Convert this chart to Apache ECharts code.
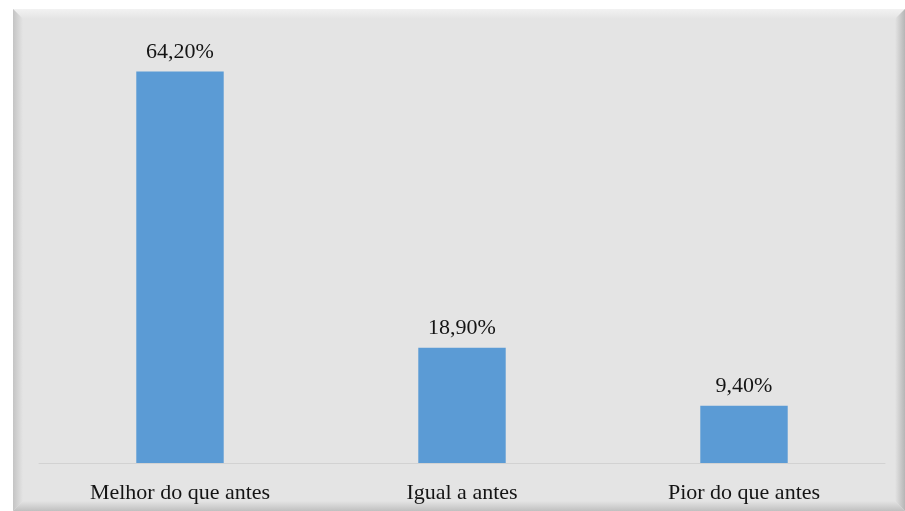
<!DOCTYPE html>
<html>
<head>
<meta charset="utf-8">
<script src="https://cdn.jsdelivr.net/npm/echarts@6/dist/echarts.min.js"></script>
<style>
  html, body { margin: 0; padding: 0; background: #ffffff; }
  #chart { width: 905px; height: 511px; }
</style>
</head>
<body>
<div id="chart"></div>
<script>
// Answers to the survey question, in percent
const categories = ['Melhor do que antes', 'Igual a antes', 'Pior do que antes'];
const percentages = [64.2, 18.9, 9.4];

const chart = echarts.init(document.getElementById('chart'), null, { renderer: 'canvas' });

const panelFill = '#e4e4e4';
const bevel = 10;
const L = 13, T = 9, R = 905, B = 511;
const serif = '"Liberation Serif", "Times New Roman", serif';

function grad(x, y, x2, y2, c0, c1) {
  return new echarts.graphic.LinearGradient(x, y, x2, y2, [
    { offset: 0, color: c0 }, { offset: 1, color: c1 }
  ]);
}

chart.setOption({
  animation: false,
  backgroundColor: '#ffffff',
  graphic: [
    { type: 'rect', z: -10, shape: { x: L, y: T, width: R - L, height: B - T }, style: { fill: panelFill } },
    // bevelled frame around the panel
    { type: 'polygon', z: -9, shape: { points: [[L, T], [R, T], [R - bevel, T + bevel], [L + bevel, T + bevel]] },
      style: { fill: grad(0, 0, 0, 1, '#f2f2f2', panelFill) } },
    { type: 'polygon', z: -9, shape: { points: [[L, T], [L + bevel, T + bevel], [L + bevel, B - bevel], [L, B]] },
      style: { fill: grad(0, 0, 1, 0, '#c4c4c4', panelFill) } },
    { type: 'polygon', z: -9, shape: { points: [[R, T], [R, B], [R - bevel, B - bevel], [R - bevel, T + bevel]] },
      style: { fill: grad(0, 0, 1, 0, panelFill, '#b5b5b5') } },
    { type: 'polygon', z: -9, shape: { points: [[L, B], [R, B], [R - bevel, B - bevel], [L + bevel, B - bevel]] },
      style: { fill: grad(0, 0, 0, 1, panelFill, '#c0c0c0') } }
  ],
  grid: { left: 39, right: 20, top: 36, bottom: 48, containLabel: false },
  xAxis: {
    type: 'category',
    data: categories,
    axisLine: { show: true, lineStyle: { color: '#d2d2d2', width: 1 } },
    axisTick: { show: false },
    axisLabel: {
      color: '#141414',
      fontFamily: serif,
      fontSize: 22,
      margin: 19
    }
  },
  yAxis: {
    type: 'value',
    min: 0,
    max: 70,
    show: false,
    splitLine: { show: false }
  },
  series: [{
    type: 'bar',
    data: percentages,
    barWidth: '31%',
    itemStyle: { color: '#5b9bd5' },
    label: {
      show: true,
      position: 'top',
      distance: 8,
      color: '#141414',
      fontFamily: serif,
      fontSize: 22,
      formatter: p => p.value.toFixed(2).replace('.', ',') + '%'
    }
  }]
});
</script>
</body>
</html>
